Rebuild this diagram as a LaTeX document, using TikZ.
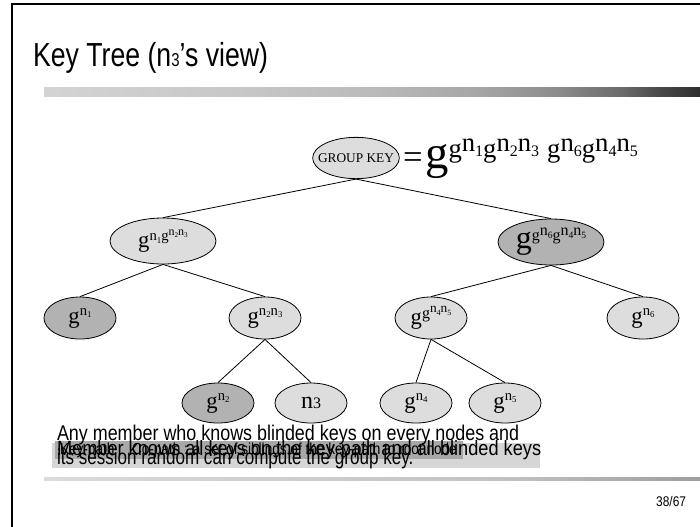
\documentclass[tikz,border=0pt]{standalone}
\usepackage{fontspec}
\setmainfont{Liberation Serif}
\newfontfamily\arialf{Liberation Sans}
\usepackage{graphicx}
\usetikzlibrary{shapes.geometric}

\definecolor{keylight}{RGB}{221,221,221}
\definecolor{keydark}{RGB}{178,178,178}
\definecolor{boxlight}{RGB}{214,214,214}
\definecolor{boxdark}{RGB}{168,168,168}

% sized text
\newcommand\fs[2]{{\fontsize{#1}{#1}\selectfont #2}}
% n with a small lowered index
\newcommand\nx[1]{n\raisebox{-.2em}{\scalebox{.6}{#1}}}
% raised exponent
\newcommand\up[2]{\raisebox{#1}{#2}}

\pgfdeclarehorizontalshading{titlebar}{100bp}{%
  color(0bp)=(black!17); color(25bp)=(black!17); color(40bp)=(black!22);
  color(50bp)=(black!27); color(58bp)=(black!35); color(64bp)=(black!45);
  color(69bp)=(black!58); color(72bp)=(black!72); color(75bp)=(black!82);
  color(100bp)=(black!82)}
\pgfdeclarehorizontalshading{footbar}{100bp}{%
  color(0bp)=(black!14); color(25bp)=(black!14); color(60bp)=(black!24);
  color(75bp)=(black!38); color(100bp)=(black!38)}

\tikzset{
  keynode/.style={ellipse, draw, line width=0.6pt, inner sep=0pt},
  lightkey/.style={keynode, fill=keylight},
  darkkey/.style={keynode, fill=keydark},
  lvltop/.style={minimum width=65pt, minimum height=31pt},
  lvltwo/.style={minimum width=79.5pt, minimum height=34.5pt},
  lvlthree/.style={minimum width=54pt, minimum height=31.5pt},
  lvlfour/.style={minimum width=54pt, minimum height=30pt},
  edge/.style={line width=0.6pt},
  plain/.style={inner sep=0pt, outer sep=0pt}
}

\begin{document}
\begin{tikzpicture}[x=0.75pt,y=-0.75pt]
\useasboundingbox (0,0) rectangle (700,526);
\fill[white] (0,0) rectangle (700,526);

% slide frame
\draw[line width=1.5pt] (12,530) -- (12,4) -- (704,4);

% title and its bar
\node[plain, anchor=base west] (title) at (33,66)
  {\arialf\fontsize{25}{25}\selectfont\scalebox{0.8}[1]{Key Tree (n{\fontsize{14}{14}\selectfont 3}’s view)}};
\shade[shading=titlebar] (44,87) rectangle (700,96);

% key tree: the root ellipse has a fixed size, its label sits on top
\node[lightkey, lvltop] (root) at (356,158) {};
\node[plain] (rootlbl) at (root.center) {\fs{10}{GROUP KEY}};
\node[plain, anchor=base west] (eq) at (403,168)
  {\fs{26}{=}\hspace{2pt}\fs{35}{g}\up{8pt}{\fs{20}{g\up{4.5pt}{\nx1}g\up{4.5pt}{\nx2\nx3}\hspace{6pt}g\up{4.5pt}{\nx6}g\up{4.5pt}{\nx4\nx5}}}};

\node[lightkey, lvltwo] (ka) at (163,241)
  {\fs{17}{g\up{5pt}{\fs{11}{\nx1g\up{4pt}{\fs{9}{\nx2\nx3}}}}}};
\node[darkkey, lvltwo] (kb) at (551,242)
  {\fs{24}{g}\up{6pt}{\fs{12}{g\up{4pt}{\nx6}g\up{4pt}{\nx4\nx5}}}};

\node[darkkey, lvlthree] (k1) at (80,318) {\fs{17}{g\up{6pt}{\fs{11}{\nx1}}}};
\node[lightkey, lvlthree] (k23) at (265,318) {\fs{17}{g\up{6pt}{\fs{11}{\nx2\nx3}}}};
\node[lightkey, lvlthree] (k45) at (431,318)
  {\fs{17}{g\up{5pt}{\fs{12}{g\up{4pt}{\fs{10}{\nx4\nx5}}}}}};
\node[lightkey, lvlthree] (k6) at (643,318) {\fs{17}{g\up{6pt}{\fs{11}{\nx6}}}};

\node[darkkey, lvlfour] (k2) at (218,403) {\fs{17}{g\up{6pt}{\fs{11}{\nx2}}}};
\node[lightkey, lvlfour] (n3) at (311,403) {\fs{18}{n\fs{12}{3}}};
\node[lightkey, lvlfour] (k4) at (416,403) {\fs{17}{g\up{6pt}{\fs{11}{\nx4}}}};
\node[lightkey, lvlfour] (k5) at (505,403) {\fs{17}{g\up{6pt}{\fs{11}{\nx5}}}};

\draw[edge] (root.south) -- (ka.north);
\draw[edge] (root.south) -- (kb.north);
\draw[edge] (ka.south) -- (k1.north);
\draw[edge] (ka.south) -- (k23.north);
\draw[edge] (kb.south) -- (k45.north);
\draw[edge] (kb.south) -- (k6.north);
\draw[edge] (k23.south) -- (k2.north);
\draw[edge] (k23.south) -- (n3.north);
\draw[edge] (k45.south) -- (k4.north);
\draw[edge] (k45.south) -- (k5.north);

% stacked captions
\fill[boxlight] (52,443) rectangle (540,468);
\fill[boxdark] (55,441) rectangle (463,459);
\node[plain, anchor=base west] (kp) at (60,454)
  {\arialf\fs{12}{\scalebox{0.85}[1]{Key-path}}};
\node[plain, anchor=base west] (cp) at (132,454)
  {\arialf\fs{12}{\scalebox{0.85}[1]{Co-path : a set of siblings of the key-path to root node}}};
\node[plain, anchor=base west] (mk) at (57,455)
  {\arialf\fs{15.5}{\scalebox{0.88}[1]{Member knows all keys on the key-path and all blinded keys}}};
\node[plain, anchor=base west] (am1) at (57,440)
  {\arialf\fs{16}{\scalebox{0.84}[1]{Any member who knows blinded keys on every nodes and}}};
\node[plain, anchor=base west] (am2) at (57,464)
  {\arialf\fs{16}{\scalebox{0.8}[1]{its session random can compute the group key.}}};

% footer
\shade[shading=footbar] (44,477) rectangle (700,480);
\node[plain, anchor=base east] (pg) at (686,506)
  {\arialf\fs{10.5}{\scalebox{0.85}[1]{38/67}}};
\end{tikzpicture}
\end{document}
